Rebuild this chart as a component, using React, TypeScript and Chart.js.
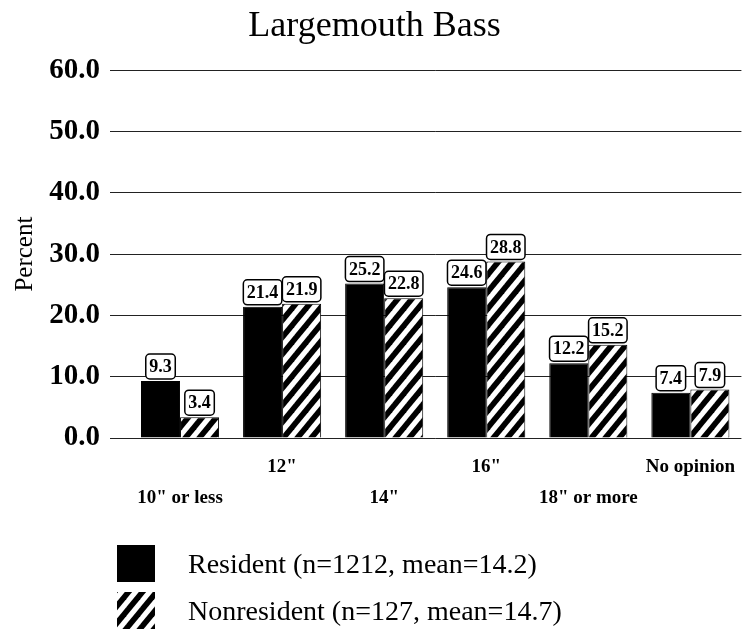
import { useEffect, useRef } from 'react';
import { Chart, registerables } from 'chart.js';

Chart.register(...registerables);

const TITLE = 'Largemouth Bass';
const Y_TITLE = 'Percent';
const categories = ['10" or less', '12"', '14"', '16"', '18" or more', 'No opinion'];
const residentValues = [9.3, 21.4, 25.2, 24.6, 12.2, 7.4];
const nonresidentValues = [3.4, 21.9, 22.8, 28.8, 15.2, 7.9];
const seriesLabels = ['Resident (n=1212, mean=14.2)', 'Nonresident (n=127, mean=14.7)'];
const yMin = 0;
const yMax = 60;
const yStep = 10;

const SERIF = '"Liberation Serif", "Times New Roman", serif';

function makeStripes(): CanvasPattern | string {
  const w = 14;
  const h = 17;
  const c = document.createElement('canvas');
  c.width = w;
  c.height = h;
  const ctx = c.getContext('2d');
  if (!ctx) return '#000';
  ctx.fillStyle = '#fff';
  ctx.fillRect(0, 0, w, h);
  ctx.strokeStyle = '#000';
  ctx.lineWidth = 5.6;
  for (let k = -2; k <= 2; k++) {
    ctx.beginPath();
    ctx.moveTo(k * w - w, 2 * h);
    ctx.lineTo(k * w + 2 * w, -h);
    ctx.stroke();
  }
  const p = ctx.createPattern(c, 'repeat');
  return p || '#000';
}

const valueLabelPlugin = {
  id: 'valueLabels',
  afterDatasetsDraw(chart: any) {
    const ctx = chart.ctx;
    ctx.save();
    ctx.font = `bold 18px ${SERIF}`;
    ctx.textAlign = 'center';
    ctx.textBaseline = 'middle';
    chart.data.datasets.forEach((ds: any, di: number) => {
      const meta = chart.getDatasetMeta(di);
      meta.data.forEach((el: any, i: number) => {
        const v = ds.data[i] as number;
        const text = v.toFixed(1);
        const tw = ctx.measureText(text).width;
        const bw = tw + 7;
        const bh = 25;
        const bx = el.x - bw / 2;
        const by = el.y - 2 - bh;
        ctx.beginPath();
        ctx.roundRect(bx, by, bw, bh, 4);
        ctx.fillStyle = '#fff';
        ctx.fill();
        ctx.lineWidth = 1.5;
        ctx.strokeStyle = '#000';
        ctx.stroke();
        ctx.fillStyle = '#000';
        ctx.fillText(text, el.x, by + bh / 2 + 1);
      });
    });
    ctx.restore();
  },
};

const legendPlugin = {
  id: 'customLegend',
  afterDraw(chart: any) {
    const ctx = chart.ctx;
    ctx.save();
    const sx = 117;
    const sw = 38;
    const sh = 37;
    const top0 = 545;
    const gap = 47;
    chart.data.datasets.forEach((ds: any, i: number) => {
      const y = top0 + i * gap;
      ctx.fillStyle = ds.backgroundColor;
      ctx.fillRect(sx, y, sw, sh);
      ctx.fillStyle = '#000';
      ctx.font = `28px ${SERIF}`;
      ctx.textAlign = 'left';
      ctx.textBaseline = 'middle';
      ctx.fillText(ds.label, 188, y + sh / 2 + 2);
    });
    ctx.restore();
  },
};

export default function App() {
  const ref = useRef<HTMLCanvasElement | null>(null);

  useEffect(() => {
    if (!ref.current) return;
    const stripes = makeStripes();
    const chart = new Chart(ref.current, {
      type: 'bar',
      data: {
        labels: categories,
        datasets: [
          {
            label: seriesLabels[0],
            data: residentValues,
            backgroundColor: '#000',
            borderColor: '#000',
            borderWidth: 1,
          },
          {
            label: seriesLabels[1],
            data: nonresidentValues,
            backgroundColor: stripes as any,
            borderColor: '#000',
            borderWidth: 1,
          },
        ],
      },
      options: {
        responsive: false,
        animation: false,
        devicePixelRatio: 1,
        layout: { padding: { left: 0, right: 0, top: 0, bottom: 111 } },
        datasets: {
          bar: { categoryPercentage: 0.765, barPercentage: 1 },
        },
        plugins: {
          legend: { display: false },
          tooltip: { enabled: false },
          title: {
            display: true,
            text: TITLE,
            color: '#000',
            font: { family: SERIF, size: 36, weight: 'normal' },
            padding: { top: 5, bottom: 22 },
          },
        },
        scales: {
          x: {
            grid: { display: false, drawTicks: false },
            border: { display: false },
            afterFit: (scale: any) => {
              scale.height = 80;
            },
            ticks: {
              color: '#000',
              padding: 14,
              autoSkip: false,
              maxRotation: 0,
              font: { family: SERIF, size: 19, weight: 'bold', lineHeight: 31 / 19 },
              callback: (_v: any, index: number) =>
                index % 2 === 0 ? ['', categories[index]] : [categories[index]],
            },
          },
          y: {
            min: yMin,
            max: yMax,
            afterFit: (scale: any) => {
              scale.width = 129;
            },
            grid: {
              color: '#222',
              lineWidth: 1,
              drawTicks: true,
              tickLength: 19,
              tickColor: '#222',
            },
            border: { display: false },
            ticks: {
              stepSize: yStep,
              color: '#000',
              padding: 10,
              font: { family: SERIF, size: 29, weight: 'bold' },
              callback: (v: any) => Number(v).toFixed(1),
            },
            title: {
              display: true,
              text: Y_TITLE,
              color: '#000',
              font: { family: SERIF, size: 25, weight: 'normal' },
              padding: { top: 10, bottom: 0 },
            },
          },
        },
      },
      plugins: [valueLabelPlugin, legendPlugin],
    });
    return () => chart.destroy();
  }, []);

  return (
    <div style={{ position: 'fixed', left: 0, top: 0, width: 749, height: 629, background: '#fff' }}>
      <canvas ref={ref} width={749} height={629} style={{ width: 749, height: 629, display: 'block' }} />
    </div>
  );
}
